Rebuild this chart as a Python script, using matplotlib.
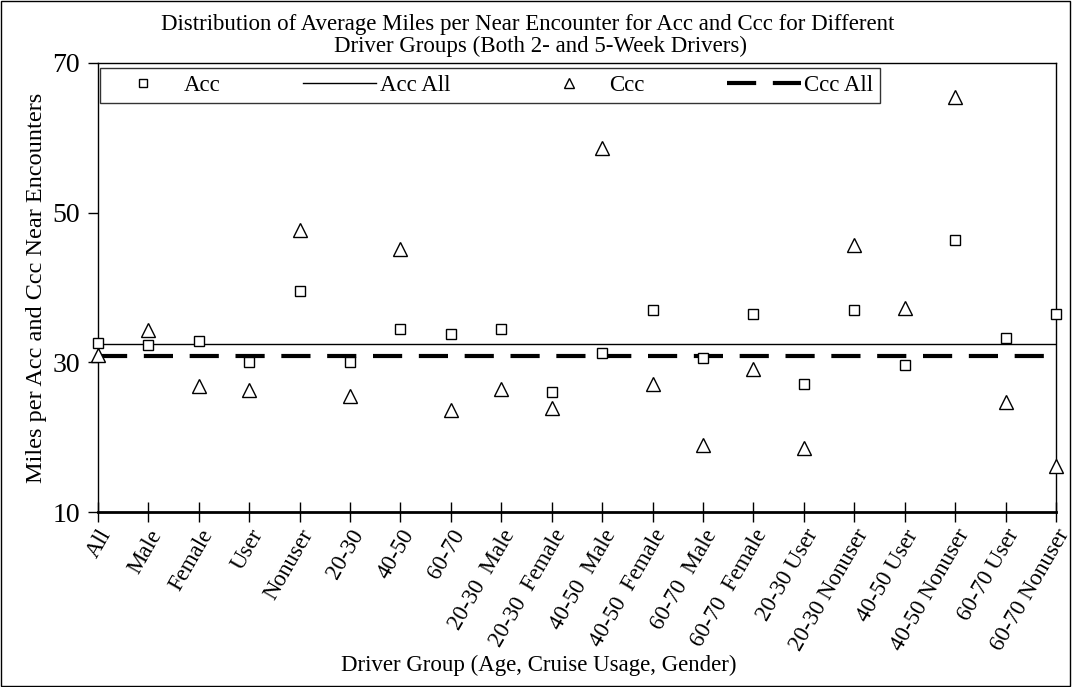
import matplotlib
matplotlib.use("Agg")
import matplotlib.pyplot as plt
from matplotlib.patches import Rectangle

plt.rcParams["font.family"] = ["Liberation Serif", "DejaVu Serif"]

groups = ["All", "Male", "Female", "User", "Nonuser", "20-30", "40-50", "60-70",
          "20-30  Male", "20-30  Female", "40-50  Male", "40-50  Female",
          "60-70  Male", "60-70  Female", "20-30 User", "20-30 Nonuser",
          "40-50 User", "40-50 Nonuser", "60-70 User", "60-70 Nonuser"]
acc = [32.6, 32.3, 32.8, 30.1, 39.6, 30.1, 34.4, 33.8, 34.4, 26.0,
       31.3, 37.0, 30.6, 36.5, 27.1, 37.0, 29.6, 46.3, 33.2, 36.5]
ccc = [31.0, 34.3, 26.8, 26.3, 47.7, 25.5, 45.1, 23.6, 26.5, 23.9,
       58.7, 27.1, 18.9, 29.1, 18.6, 45.7, 37.2, 65.4, 24.7, 16.2]
acc_all = 32.4
ccc_all = 30.9

fig = plt.figure(figsize=(10.72, 6.87), dpi=100)
ax = fig.add_axes([0.0914, 0.2547, 0.8936, 0.6536])

x = list(range(len(groups)))
ax.plot(x, acc, linestyle="none", marker="s", markersize=7.5, markerfacecolor="white",
        markeredgecolor="black", markeredgewidth=1, clip_on=False, zorder=4, label="Acc")
ax.axhline(acc_all, color="black", lw=1, label="Acc All", zorder=2)
ax.plot(x, ccc, linestyle="none", marker="^", markersize=10, markerfacecolor="white",
        markeredgecolor="black", markeredgewidth=1, clip_on=False, zorder=4, label="Ccc")
ax.axhline(ccc_all, color="black", lw=3, dashes=(7, 4), label="Ccc All", zorder=2)

ax.set_xlim(0, len(groups) - 1)
ax.set_ylim(10, 70)
ax.set_yticks([10, 30, 50, 70])
ax.tick_params(axis="y", direction="out", length=7, labelsize=20, width=1, pad=6)
ax.set_xticks(x)
ax.set_xticklabels(groups, rotation=60, ha="right", rotation_mode="anchor",
                   fontsize=16.5)
ax.tick_params(axis="x", direction="inout", length=14, width=1, pad=3)
ax.spines["bottom"].set_linewidth(2)
for s in ["left", "top", "right"]:
    ax.spines[s].set_linewidth(1)

ax.set_ylabel("Miles per Acc and Ccc Near Encounters", fontsize=17.5, labelpad=4)
fig.text(0.503, 0.032, "Driver Group (Age, Cruise Usage, Gender)", ha="center",
         va="center", fontsize=16.5)
fig.text(0.492, 0.965, "Distribution of Average Miles per Near Encounter for Acc and Ccc for Different",
         ha="center", va="center", fontsize=16.5)
fig.text(0.504, 0.932, "Driver Groups (Both 2- and 5-Week Drivers)",
         ha="center", va="center", fontsize=16.5)

leg = ax.legend(loc="upper left", bbox_to_anchor=(0.002, 0.989), ncol=4, fontsize=16.5,
                frameon=True, fancybox=False, edgecolor="black", handlelength=3.2,
                columnspacing=3.6, handletextpad=0.15, borderpad=0.3, borderaxespad=0,
                markerscale=0.75)
leg.get_frame().set_linewidth(1)

fig.patches.append(Rectangle((0.001, 0.001), 0.997, 0.997, transform=fig.transFigure,
                             fill=False, edgecolor="black", lw=1))

fig.savefig("out.png", dpi=100, facecolor="white")
